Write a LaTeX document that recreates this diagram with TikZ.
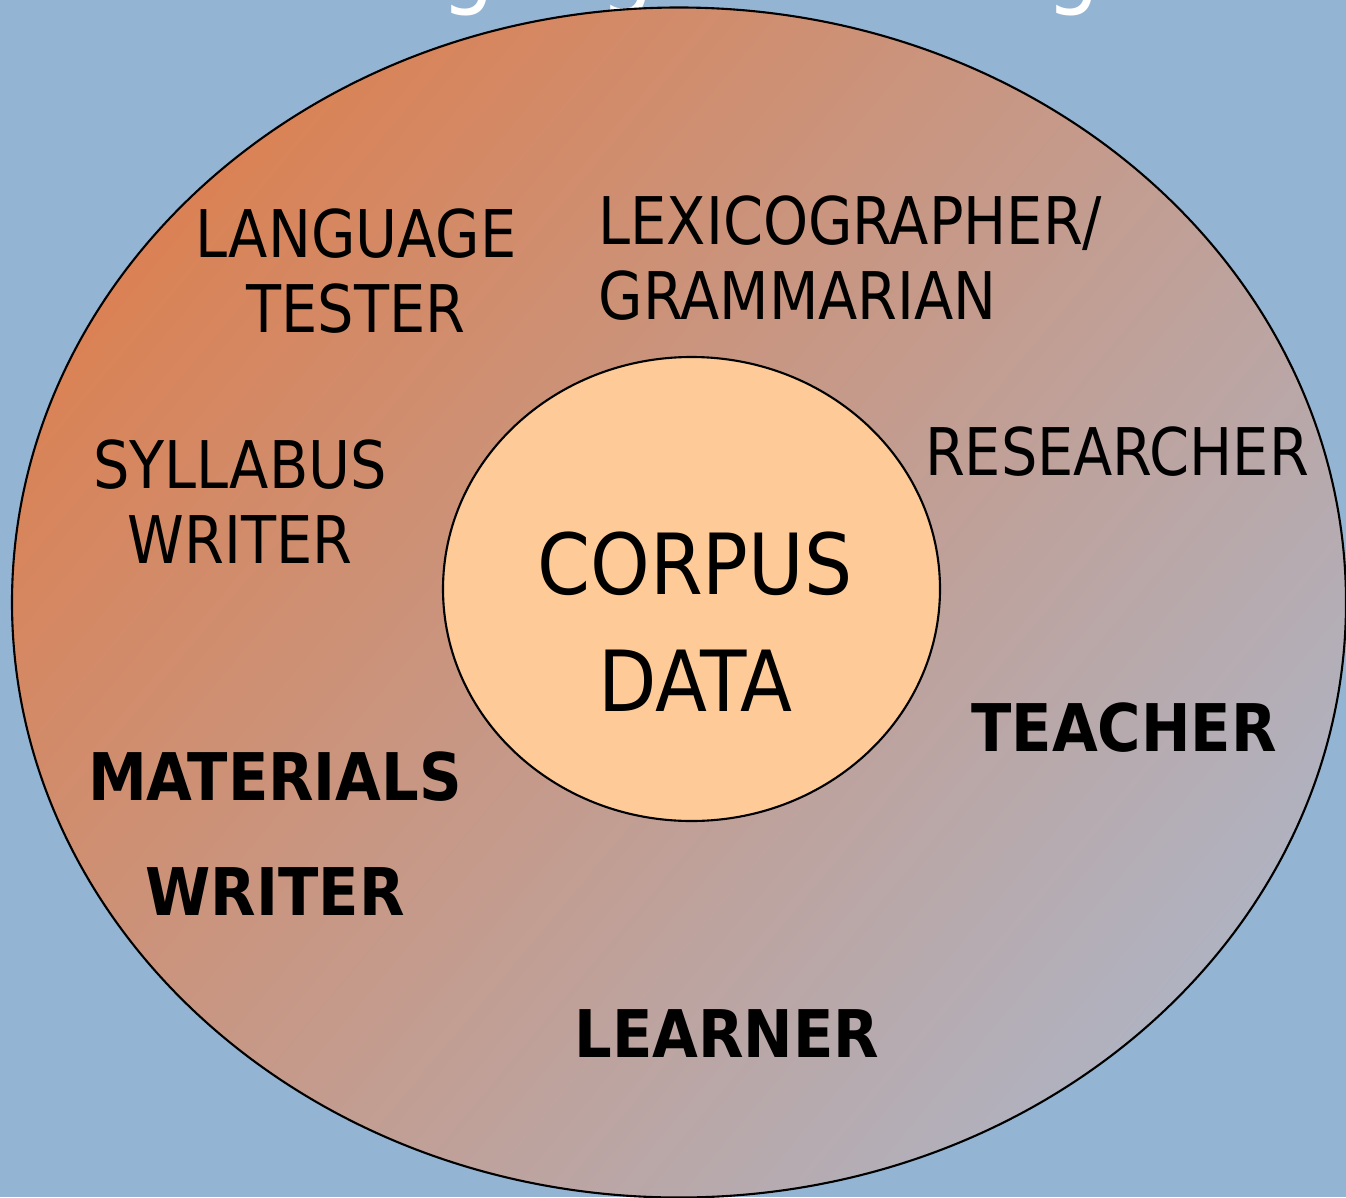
\documentclass[tikz,border=0pt]{standalone}
\usepackage{fontspec}
\setmainfont{DejaVuSansCondensed.ttf}[BoldFont=DejaVuSansCondensed-Bold.ttf]
\newfontfamily\rolefont{DejaVuSansCondensed.ttf}[FakeStretch=0.97]
\newfontfamily\keyfont{DejaVuSansCondensed-Bold.ttf}
\usetikzlibrary{shapes.geometric}
\definecolor{slideblue}{RGB}{147,181,211}
\definecolor{ringorange}{RGB}{218,130,85}
\definecolor{ringgrey}{RGB}{176,178,192}
\definecolor{corpuspeach}{RGB}{253,202,152}
\tikzset{role/.style = {inner sep = 0, align = center, font = \rolefont\fontsize{18.7}{21.3}\selectfont},
  keyrole/.style = {inner sep = 0, align = center, font = \keyfont\fontsize{18.7}{32.7}\selectfont}}

\begin{document}
\begin{tikzpicture}
      \useasboundingbox (0, 0) rectangle (13.46, 11.97);
      \clip (0, 0) rectangle (13.46, 11.97);
      \fill [slideblue] (0, 0) rectangle (13.46, 11.97);
      \node [white, inner sep = 0, anchor = base west, font = \fontsize{26.7}{30}\selectfont] (title) at (2.89, 12.0) {Language teaching};
      \node [ellipse, draw, line width = 0.6pt, inner sep = 0, minimum width = 13.34cm, minimum height = 11.9cm,
        top color = ringorange, bottom color = ringgrey, shading angle = 50] (ring) at (6.79, 5.945) {};
      \node [ellipse, draw, line width = 0.6pt, inner sep = 0, minimum width = 4.97cm, minimum height = 4.64cm,
        fill = corpuspeach] (core) at (6.915, 6.08) {};
      \node [inner sep = 0, align = center, font = \fontsize{24}{33.3}\selectfont] (corpus) at (6.95, 5.755) {CORPUS\\DATA};
      \node [role] (tester) at (3.56, 9.255) {LANGUAGE\\TESTER};
      \node [role, align = left, anchor = west] (lexico) at (5.98, 9.385) {LEXICOGRAPHER/\\GRAMMARIAN};
      \node [role] (syllabus) at (2.40, 6.955) {SYLLABUS\\WRITER};
      \node [role] (researcher) at (11.17, 7.45) {RESEARCHER};
      \node [keyrole] (teacher) at (11.24, 4.69) {TEACHER};
      \node [keyrole] (materials) at (2.75, 3.635) {MATERIALS\\WRITER};
      \node [keyrole] (learner) at (7.27, 1.63) {LEARNER};
    \end{tikzpicture}
\end{document}
